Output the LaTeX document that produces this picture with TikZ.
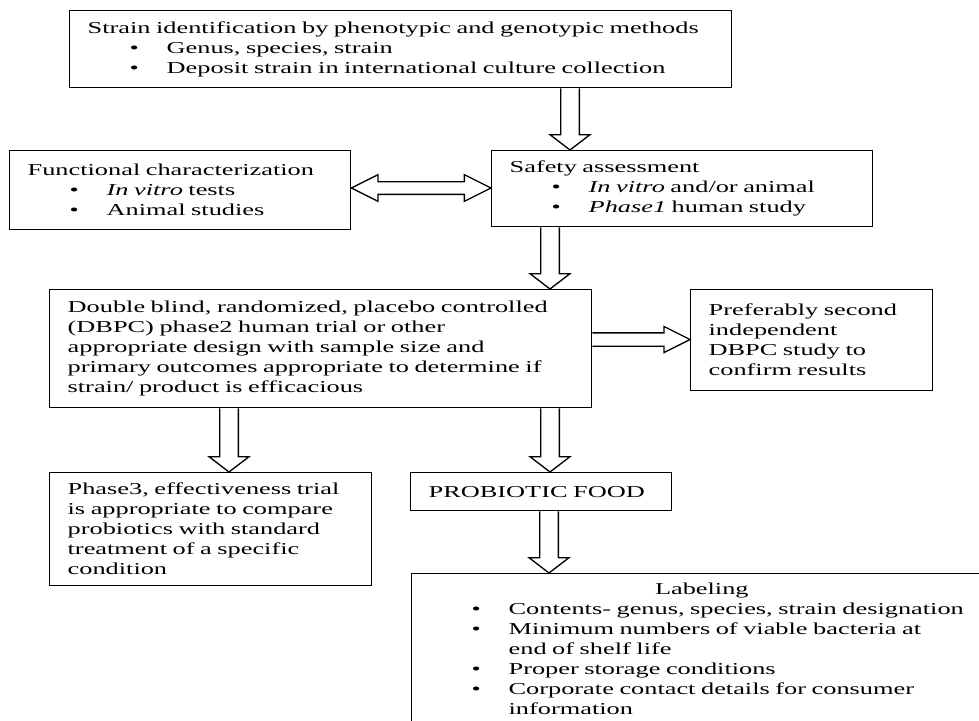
\documentclass[tikz,border=0pt]{standalone}
\usepackage{fontspec}
\setmainfont{Liberation Serif}[FakeStretch=1.58]
\usetikzlibrary{calc}
% bullet line inside a box
\newcommand{\bul}[1]{\hspace*{31.5pt}\makebox[27.75pt][l]{\textbullet}#1}
% hollow block arrows between boxes
\newcommand{\blkdown}[3]{%
  \draw[blk] let \p1=(#1.south -| #3), \p2=(#2.north -| #3) in
    (\x1-7pt,\y1) -- (\x1-7pt,\y2+11.5pt) -- (\x1-15pt,\y2+11.5pt) -- (\x2,\y2)
    -- (\x1+15pt,\y2+11.5pt) -- (\x1+7pt,\y2+11.5pt) -- (\x1+7pt,\y1);}
\newcommand{\blkright}[3]{%
  \draw[blk] let \p1=(#1.east |- #3), \p2=(#2.west |- #3) in
    (\x1,\y1+5pt) -- (\x2-19.5pt,\y1+5pt) -- (\x2-19.5pt,\y1+9.75pt) -- (\x2,\y1)
    -- (\x2-19.5pt,\y1-9.75pt) -- (\x2-19.5pt,\y1-5pt) -- (\x1,\y1-5pt);}
\newcommand{\blkboth}[3]{%
  \draw[blk] let \p1=(#1.east |- #3), \p2=(#2.west |- #3) in
    (\x1,\y1) -- (\x1+20pt,\y1+10pt) -- (\x1+20pt,\y1+4.75pt) -- (\x2-20pt,\y1+4.75pt)
    -- (\x2-20pt,\y1+10pt) -- (\x2,\y1) -- (\x2-20pt,\y1-10pt) -- (\x2-20pt,\y1-4.75pt)
    -- (\x1+20pt,\y1-4.75pt) -- (\x1+20pt,\y1-10pt) -- cycle;}

\begin{document}
\begin{tikzpicture}[x=0.75pt, y=-0.75pt,
  font=\fontsize{12.5}{15}\selectfont,
  box/.style={draw, line width=1pt, anchor=north west, align=left, inner xsep=13.5pt},
  blk/.style={draw, line width=1pt, line join=miter}]
\useasboundingbox[fill=white] (0,0) rectangle (979,721);
\node[box, text width=469.5pt, minimum height=57.75pt] (strain) at (69,10)
  {Strain identification by phenotypic and genotypic methods\\
   \bul{Genus, species, strain}\\
   \bul{Deposit strain in international culture collection}};
\node[box, text width=228.75pt, minimum height=59.25pt] (func) at (9,150)
  {Functional characterization\\
   \bul{\textit{In vitro} tests}\\
   \bul{Animal studies}};
\node[box, text width=258.75pt, minimum height=57pt] (safety) at (491,150)
  {Safety assessment\\
   \bul{\textit{In vitro} and/or animal}\\
   \bul{\textit{Phase1} human study}};
\node[box, text width=379.5pt, minimum height=88.5pt] (dbpc) at (49,289)
  {Double blind, randomized, placebo controlled\\
   (DBPC) phase2 human trial or other\\
   appropriate design with sample size and\\
   primary outcomes appropriate to determine if\\
   strain/ product is efficacious};
\node[box, text width=154.5pt, minimum height=75.75pt] (second) at (690,289)
  {Preferably second\\ independent\\ DBPC study to\\ confirm results};
\node[box, text width=214.5pt, minimum height=84.75pt] (phase3) at (49,472)
  {Phase3, effectiveness trial\\ is appropriate to compare\\
   probiotics with standard\\ treatment of a specific\\ condition};
\node[box, text width=168.75pt, minimum height=28.5pt] (food) at (410,472)
  {PROBIOTIC FOOD};
\node[box, text width=411pt, minimum height=113.25pt] (label) at (411,573)
  {\hspace*{169pt}Labeling\\
   \bul{Contents- genus, species, strain designation}\\
   \bul{Minimum numbers of viable bacteria at}\\
   \hspace*{59.25pt}end of shelf life\\
   \bul{Proper storage conditions}\\
   \bul{Corporate contact details for consumer}\\
   \hspace*{59.25pt}information};
% arrow axes
\coordinate (a1) at (570,0);
\coordinate (a2) at (550,0);
\coordinate (a3) at (229,0);
\coordinate (a4) at (549,0);
\coordinate (b1) at (0,188);
\coordinate (b2) at (0,339.5);
\blkdown{strain}{safety}{a1}
\blkboth{func}{safety}{b1}
\blkdown{safety}{dbpc}{a2}
\blkright{dbpc}{second}{b2}
\blkdown{dbpc}{phase3}{a3}
\blkdown{dbpc}{food}{a2}
\blkdown{food}{label}{a4}
\end{tikzpicture}
\end{document}
